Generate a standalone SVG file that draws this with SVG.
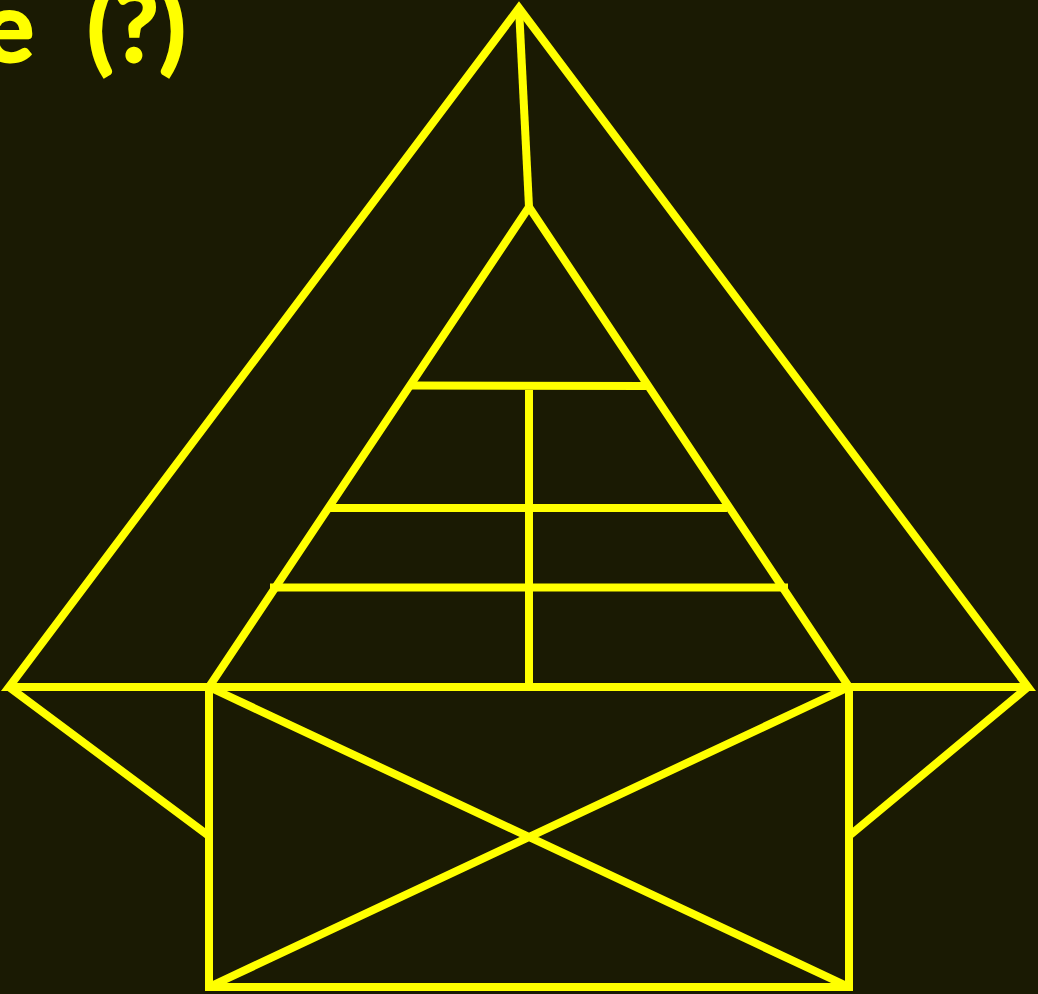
<svg xmlns="http://www.w3.org/2000/svg" width="1038" height="994" viewBox="0 0 1038 994">
<style>
.l{fill:none;stroke:#ffff00;stroke-width:8}
.t{fill:#ffff00;stroke:#ffff00;stroke-width:2;font-family:"Lato",sans-serif;font-weight:700;font-size:98px;word-spacing:2.500px}
</style>
<rect width="1038" height="994" fill="#1a1a03"/>
<text class="t" x="-18" y="62" xml:space="preserve">e  (?)</text>
<g id="connectors" class="l">
<path d="M519 8L9 687H1028Z"/>
<path d="M519 8L529 207"/>
<path d="M529 207L209 687M529 207L849 687"/>
<path d="M411 385.500L646 386M329 508H727M270 587.500H788M529 386V687"/>
<path d="M9 687L209 836M1028 687L849 836"/>
<rect x="209" y="687" width="640" height="300"/>
<path d="M209 687L849 987M849 687L209 987"/>
</g>
</svg>
